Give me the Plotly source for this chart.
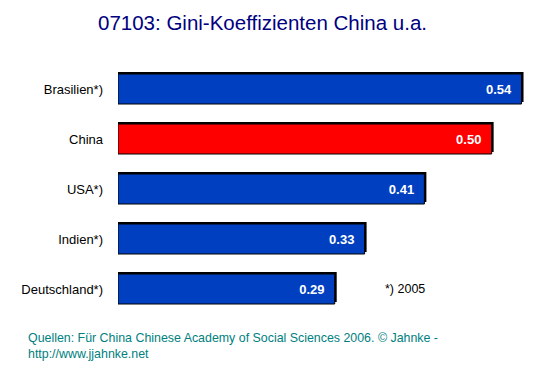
import plotly.graph_objects as go

countries = ["Brasilien*)", "China", "USA*)", "Indien*)", "Deutschland*)"]
gini = [0.54, 0.50, 0.41, 0.33, 0.29]
colors = ["#0040C0", "#FF0000", "#0040C0", "#0040C0", "#0040C0"]
labels = ["0.54", "0.50", "0.41", "0.33", "0.29"]

title = "07103: Gini-Koeffizienten China u.a."
note = "*) 2005"
source = "Quellen: Für China Chinese Academy of Social Sciences 2006. © Jahnke -<br>http://www.jjahnke.net"

FONT = "Liberation Sans, Arial, sans-serif"
L, T, W, H = 118, 64, 411, 250
xmax = 0.55
px_per_unit = W / xmax

fig = go.Figure()
# shadow
fig.add_trace(go.Bar(
    y=countries, x=[v + 2 / px_per_unit for v in gini], orientation="h",
    width=0.6, offset=-0.34,
    marker=dict(color="black", line=dict(width=0)),
    hoverinfo="skip", showlegend=False,
))
fig.add_trace(go.Bar(
    y=countries, x=gini, orientation="h", width=0.6, offset=-0.3,
    marker=dict(color=colors, line=dict(color="black", width=1)),
    text=labels, texttemplate="%{text}\u00a0\u00a0", textposition="inside",
    insidetextanchor="end",
    textfont=dict(family=FONT, size=13, color="white", weight="bold"),
    textangle=0, showlegend=False,
))

fig.update_layout(
    width=553, height=376,
    margin=dict(l=L, r=553 - L - W, t=T, b=376 - T - H, autoexpand=False),
    paper_bgcolor="white", plot_bgcolor="white",
    barmode="overlay",
    font=dict(family=FONT, size=13, color="black"),
    xaxis=dict(range=[0, xmax], visible=False, fixedrange=True, automargin=False),
    yaxis=dict(categoryorder="array", categoryarray=countries,
               range=[4.5, -0.5], showgrid=False, zeroline=False,
               showline=False, ticks="", ticklabelstandoff=14, automargin=False,
               fixedrange=True,
               tickfont=dict(family=FONT, size=13, color="black")),
    uniformtext=dict(mode=False),
)

fig.add_annotation(text=title, xref="paper", yref="paper",
                   x=(262 - L) / W, y=1 + (T - 22) / H,
                   xanchor="center", yanchor="middle", showarrow=False,
                   font=dict(family=FONT, size=20.5, color="#000080"))
fig.add_annotation(text=note, xref="x", yref="y",
                   x=(383 - L) / px_per_unit, y=countries[-1],
                   xanchor="left", yanchor="middle", showarrow=False,
                   font=dict(family=FONT, size=12.5, color="black"))
fig.add_annotation(text=source, xref="paper", yref="paper",
                   x=(26 - L) / W, y=-(329 - (T + H)) / H,
                   xanchor="left", yanchor="top", align="left", showarrow=False,
                   font=dict(family=FONT, size=12.4, color="#008080"))

fig.write_html("out.html", config={"displayModeBar": False},
               post_script="document.body.style.margin='0';document.body.style.overflow='hidden';")
